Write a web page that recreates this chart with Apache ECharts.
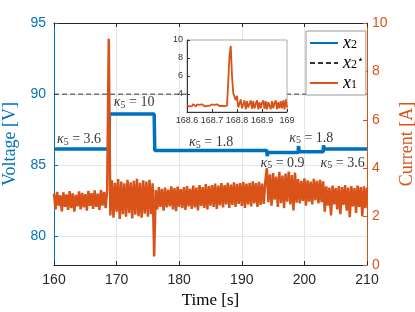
<!DOCTYPE html>
<html><head><meta charset="utf-8">
<script src="https://cdn.jsdelivr.net/npm/echarts@6/dist/echarts.min.js"></script>
<style>html,body{margin:0;padding:0;background:#fff}#c{width:415px;height:312px}</style>
</head><body><div id="c"></div>
<script>
// ---- data ----
const xTicks = [160, 170, 180, 190, 200, 210];
const x2Time = [160, 168.8, 168.85, 176.0, 176.1, 194.0, 194.05, 194.2, 199.0, 199.05, 199.2, 203.0, 203.05, 203.2, 210];
const x2Values = [86.15, 86.15, 88.6, 88.6, 86.05, 86.05, 85.65, 85.9, 85.9, 86.35, 85.95, 85.95, 86.4, 86.15, 86.15];
const x2Ref = [90, 90];
const x2RefTime = [160, 210];
const x1Start = 160, x1Step = 0.25;
const x1Values = [
  2.95,2.30,3.02,2.45,2.88,2.22,3.00,2.40,2.92,2.28,
  3.05,2.35,2.96,2.20,2.90,2.42,3.04,2.30,2.98,2.38,
  2.93,2.25,3.06,2.44,2.97,2.32,3.08,2.40,2.95,2.28,
  3.10,2.45,3.02,2.35,3.12,
  9.35,
  2.05,3.50,1.95,3.40,2.20,3.55,1.90,3.45,2.10,3.38,
  2.00,3.52,2.15,3.42,1.92,3.48,2.08,3.56,2.02,3.40,
  1.95,3.50,2.12,3.45,2.00,3.52,2.10,3.38,
  0.35,
  3.10,2.30,3.22,2.40,3.15,2.25,3.20,2.38,3.12,2.42,
  3.25,2.30,3.18,2.22,3.24,2.40,3.14,2.35,3.22,2.28,
  3.26,2.42,3.16,2.32,3.28,2.38,3.20,2.26,3.30,2.44,
  3.22,2.36,3.34,2.30,3.26,2.45,3.30,2.40,3.36,2.32,
  3.28,2.46,3.38,2.38,3.30,2.50,3.40,2.36,3.32,2.48,
  3.42,2.40,3.35,2.52,3.38,2.44,3.44,2.36,3.36,2.50,
  3.40,2.42,3.46,2.55,3.38,2.40,3.44,2.48,3.36,2.52,
  3.42,
  4.00,
  2.60,3.75,2.45,3.80,2.70,3.65,2.40,3.85,2.55,3.70,
  2.35,3.78,2.62,3.86,2.50,3.72,2.25,3.82,2.58,
  3.55,2.55,3.48,2.65,3.58,2.45,3.50,2.62,3.45,2.50,
  3.56,2.68,3.48,2.55,3.52,2.60,3.46,
  2.20,3.25,2.45,3.20,2.05,3.28,2.50,3.18,2.30,3.26,
  2.10,3.22,2.48,3.30,2.25,3.20,1.98,3.26,2.42,3.18,
  2.15,3.28,2.40,3.22,2.02,3.25,2.35,3.20
];
const insetStart = 168.6, insetStep = 0.005;
const insetValues = [
  2.75,2.85,2.62,2.80,2.65,2.88,2.70,2.62,2.85,2.68,
  2.78,2.62,2.86,2.70,2.64,2.82,2.66,2.88,2.70,2.62,
  2.84,2.68,2.80,2.64,2.86,2.70,2.66,2.84,2.68,2.80,
  2.64,2.86,2.70,2.75,8.20,9.35,6.00,4.10,3.90,3.30,
  3.80,2.50,2.90,3.40,2.40,2.60,3.30,2.30,3.20,2.50,
  2.70,3.30,2.35,3.20,2.40,2.90,3.30,2.30,3.10,2.40,
  3.00,3.30,2.35,3.20,2.30,3.10,3.30,2.30,3.20,2.40,
  3.00,3.30,2.30,3.10,2.40,3.20,2.40,3.30,2.30,3.40,
  2.50
];
const insetTicks = [168.6, 168.7, 168.8, 168.9, 169];
const annoText = ['3.6', '10', '1.8', '1.8', '0.9', '3.6'];
const annoTime = [164.0, 172.8, 185.1, 201.1, 196.5, 206.1];
const annoVolt = [86.8, 89.4, 86.6, 86.9, 85.15, 85.15];

// ---- build ----
const BLUE = '#0072BD', ORANGE = '#D95319', DARK = '#262626';
const SANS = 'Liberation Sans, Arial, sans-serif';
const SERIF = 'Liberation Serif, Times New Roman, serif';
const x2Data = x2Time.map((t, i) => [t, x2Values[i]]);
const refData = x2RefTime.map((t, i) => [t, x2Ref[i]]);
const x1Data = x1Values.map((v, i) => [x1Start + i * x1Step, v]);
const insetData = insetValues.map((v, i) => [insetStart + i * insetStep, v]);
const annoData = annoText.map((s, i) => ({ value: [annoTime[i], annoVolt[i]], txt: s }));

const chart = echarts.init(document.getElementById('c'), null, { renderer: 'canvas' });
const legendNames = { x2: '{v|x}{b|2}', x2s: '{v|x}{b|2}{t|⋆}', x1: '{v|x}{b|1}' };

chart.setOption({
  animation: false,
  backgroundColor: '#fff',
  grid: [
    { left: 54, right: 48, top: 23, bottom: 47, outerBoundsMode: 'none', containLabel: false },
    { left: 187, top: 40, width: 100, height: 72, show: true, backgroundColor: '#fff', borderColor: '#aaa', borderWidth: 1, z: 10, outerBoundsMode: 'none', containLabel: false }
  ],
  xAxis: [
    { type: 'value', gridIndex: 0, min: xTicks[0], max: xTicks[xTicks.length - 1], interval: 10,
      axisLine: { lineStyle: { color: DARK } }, axisTick: { inside: true, length: 4, lineStyle: { color: DARK } },
      axisLabel: { fontSize: 14, color: DARK, fontFamily: SANS, margin: 8 },
      splitLine: { show: true, lineStyle: { color: '#e4e4e4' } },
      name: 'Time [s]', nameLocation: 'middle', nameGap: 26,
      nameTextStyle: { fontFamily: SERIF, fontSize: 17, color: '#000' } },
    { type: 'value', gridIndex: 0, position: 'top', min: xTicks[0], max: xTicks[xTicks.length - 1], interval: 10,
      axisLine: { lineStyle: { color: DARK } }, axisTick: { inside: true, length: 4, lineStyle: { color: DARK } },
      axisLabel: { show: false }, splitLine: { show: false } },
    { type: 'value', gridIndex: 1, min: insetTicks[0], max: insetTicks[insetTicks.length - 1], interval: 0.1, z: 11,
      axisLine: { lineStyle: { color: '#333' } }, axisTick: { inside: true, length: 3, lineStyle: { color: '#333' } },
      axisLabel: { fontSize: 9, color: '#333', fontFamily: SANS, margin: 4, formatter: v => String(+v.toFixed(1)) },
      splitLine: { show: false } }
  ],
  yAxis: [
    { type: 'value', gridIndex: 0, min: 78, max: 95, splitNumber: 3, position: 'left',
      axisLine: { show: true, lineStyle: { color: BLUE } }, axisTick: { show: true, inside: true, length: 4, lineStyle: { color: BLUE } },
      axisLabel: { fontSize: 14, color: BLUE, fontFamily: SANS, margin: 8, showMinLabel: false },
      splitLine: { show: true, lineStyle: { color: '#dce8f3' } },
      name: 'Voltage [V]', nameLocation: 'middle', nameGap: 30,
      nameTextStyle: { fontFamily: SERIF, fontSize: 18, color: BLUE } },
    { type: 'value', gridIndex: 0, min: 0, max: 10, interval: 2, position: 'right',
      axisLine: { show: true, lineStyle: { color: ORANGE } }, axisTick: { show: true, inside: true, length: 4, lineStyle: { color: ORANGE } },
      axisLabel: { fontSize: 14, color: ORANGE, fontFamily: SANS, margin: 5 },
      splitLine: { show: false },
      name: 'Current [A]', nameLocation: 'middle', nameGap: 24,
      nameTextStyle: { fontFamily: SERIF, fontSize: 18, color: ORANGE } },
    { type: 'value', gridIndex: 1, min: 2, max: 10, interval: 2, z: 11,
      axisLine: { show: true, lineStyle: { color: '#333' } }, axisTick: { show: true, inside: true, length: 3, lineStyle: { color: '#333' } },
      axisLabel: { fontSize: 9, color: '#333', fontFamily: SANS, margin: 4, formatter: v => (v === 2 ? '' : String(v)) },
      splitLine: { show: false } }
  ],
  legend: {
    data: ['x2', 'x2s', 'x1'], orient: 'vertical', left: 306, top: 31, z: 20,
    backgroundColor: '#fff', borderColor: '#999', borderWidth: 1, padding: [3, 2, 3, 3],
    itemWidth: 28, itemHeight: 10, itemGap: 2,
    itemStyle: { opacity: 0 },
    formatter: n => legendNames[n],
    textStyle: {
      rich: {
        v: { fontFamily: SERIF, fontStyle: 'italic', fontSize: 18, color: '#000', lineHeight: 16 },
        b: { fontFamily: SERIF, fontSize: 12, color: '#000', verticalAlign: 'bottom', lineHeight: 16 },
        t: { fontFamily: 'DejaVu Sans', fontSize: 11, color: '#000', verticalAlign: 'top', lineHeight: 16 }
      }
    }
  },
  series: [
    { name: 'x2', type: 'line', xAxisIndex: 0, yAxisIndex: 0, data: x2Data, symbol: 'none', z: 3,
      lineStyle: { color: BLUE, width: 3.5 }, itemStyle: { color: BLUE } },
    { name: 'x2s', type: 'line', xAxisIndex: 0, yAxisIndex: 0, data: refData, symbol: 'none', z: 3,
      lineStyle: { color: '#333', width: 1, type: [5, 3] }, itemStyle: { color: '#333' } },
    { name: 'x1', type: 'line', xAxisIndex: 0, yAxisIndex: 1, data: x1Data, symbol: 'none', z: 4,
      lineStyle: { color: ORANGE, width: 2.5 }, itemStyle: { color: ORANGE } },
    { name: 'anno', type: 'scatter', xAxisIndex: 0, yAxisIndex: 0, data: annoData, symbolSize: 0, z: 6,
      label: { show: true, position: 'inside', formatter: p => '{k|κ}{s|5}{n| = ' + p.data.txt + '}',
        rich: {
          k: { fontFamily: SERIF, fontStyle: 'italic', fontSize: 14, color: '#000', lineHeight: 15 },
          s: { fontFamily: SERIF, fontSize: 10, color: '#000', verticalAlign: 'bottom', lineHeight: 15 },
          n: { fontFamily: SERIF, fontSize: 14, color: '#000', lineHeight: 15 }
        } } },
    { name: 'inset', type: 'line', xAxisIndex: 2, yAxisIndex: 2, data: insetData, symbol: 'none', z: 12,
      lineStyle: { color: ORANGE, width: 1.8 } }
  ]
});
</script></body></html>
